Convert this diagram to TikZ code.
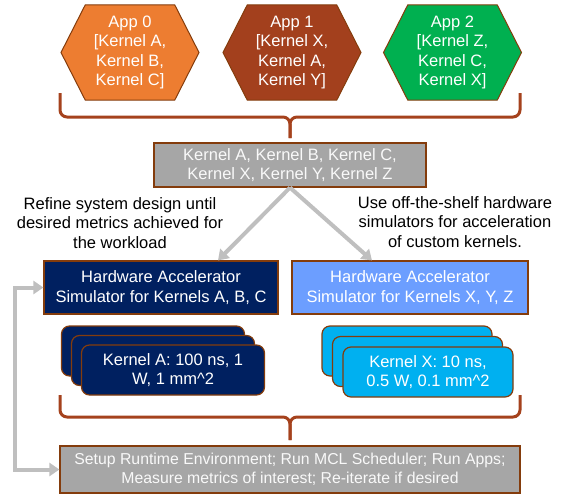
\documentclass[tikz,border=0pt]{standalone}
\usepackage{fontspec}
\setmainfont{Liberation Sans}
\usetikzlibrary{shapes, arrows.meta, positioning, calc}

\definecolor{appzero}{HTML}{ED7D31}
\definecolor{appone}{HTML}{A3401D}
\definecolor{apptwo}{HTML}{00B050}
\definecolor{edge}{HTML}{843C0C}
\definecolor{bracec}{HTML}{A5421D}
\definecolor{boxgray}{HTML}{A6A6A6}
\definecolor{arrowgray}{HTML}{BFBFBF}
\definecolor{navy}{HTML}{002060}
\definecolor{sky}{HTML}{6C9EFF}
\definecolor{cyan}{HTML}{00B0F0}

\begin{document}
\begin{tikzpicture}[x=1pt, y=-1pt, font=\fontsize{16.5}{19.5}\selectfont,
  >={Triangle[width=13pt, length=10pt]},
  app/.style={signal, signal to=west and east, signal pointer angle=126,
    draw=edge, line width=1pt, text=white, align=center,
    minimum width=138pt, minimum height=95pt, inner sep=0pt},
  graybox/.style={draw=edge, line width=1.2pt, fill=boxgray, text=white!95!gray,
    align=center, inner sep=0pt},
  hwbox/.style={draw=edge, line width=1.2pt, text=white, align=center,
    minimum height=53pt, inner sep=0pt},
  card/.style={draw=edge, line width=1.2pt, rounded corners=8pt, text=white,
    align=center, minimum height=50pt, inner sep=0pt},
  brace/.style={draw=bracec, line width=3pt, rounded corners=7pt},
  flow/.style={draw=arrowgray, line width=4pt, ->},
  note/.style={align=center}]

\useasboundingbox (0,0) rectangle (569,495);

\begin{scope}
    \node[app, fill=appzero] (app0) at (130,52.5) {App 0\\{[}Kernel A,\\Kernel B,\\Kernel C]};
    \node[app, fill=appone] (app1) at (292,52.5) {App 1\\{[}Kernel X,\\Kernel A,\\Kernel Y]};
    \node[app, fill=apptwo] (app2) at (452.5,52.5) {App 2\\{[}Kernel Z,\\Kernel C,\\Kernel X]};

    \node[graybox, minimum width=272pt, minimum height=44pt] (kernels) at (290,165)
      {Kernel A, Kernel B, Kernel C,\\Kernel X, Kernel Y, Kernel Z};

    \node[note] (refine) at (120,223) {Refine system design until\\desired metrics achieved for\\the workload};
    \node[note] (offshelf) at (455,222) {Use off-the-shelf hardware\\simulators for acceleration\\of custom kernels.};

    \node[hwbox, fill=navy, minimum width=234pt] (hwa) at (161,287.5)
      {Hardware Accelerator\\Simulator for Kernels A, B, C};
    \node[hwbox, fill=sky, minimum width=236pt] (hwx) at (410,287.5)
      {Hardware Accelerator\\Simulator for Kernels X, Y, Z};

    \node[card, fill=navy, minimum width=183pt] (ka3) at (153,351) {};
    \node[card, fill=navy, minimum width=183pt] (ka2) at ([shift={(10,9.5)}]ka3) {};
    \node[card, fill=navy, minimum width=183pt] (ka1) at ([shift={(10,9.5)}]ka2)
      {Kernel A: 100 ns, 1\\W, 1 mm\textasciicircum 2};

    \node[card, fill=cyan, minimum width=170pt] (kx3) at (407,351) {};
    \node[card, fill=cyan, minimum width=170pt] (kx2) at ([shift={(10.5,10.5)}]kx3) {};
    \node[card, fill=cyan, minimum width=170pt] (kx1) at ([shift={(10.5,10.5)}]kx2)
      {Kernel X: 10 ns,\\0.5 W, 0.1 mm\textasciicircum 2};

    \node[graybox, minimum width=460pt, minimum height=47pt,
      font=\fontsize{15.8}{18.5}\selectfont] (setup) at (290,469.5)
      {Setup Runtime Environment; Run MCL Scheduler; Run Apps;\\Measure metrics of interest; Re-iterate if desired};
\end{scope}

\coordinate (loop) at (15,0);

\draw[brace] (60,93) |- (290,117) -- (290,138);
\draw[brace] (520,93) |- (290,117) -- (290,138);
\draw[brace] (60,395) |- (290,417) -- (290,440);
\draw[brace] (520,395) |- (290,417) -- (290,440);

\draw[flow] (kernels.south) -- ([xshift=57pt]hwa.north);
\draw[flow] (kernels.south) -- ([xshift=-38pt]hwx.north);
\draw[flow, <->] (hwa.west) -- (hwa.west -| loop) |- (setup.west);
\end{tikzpicture}
\end{document}
